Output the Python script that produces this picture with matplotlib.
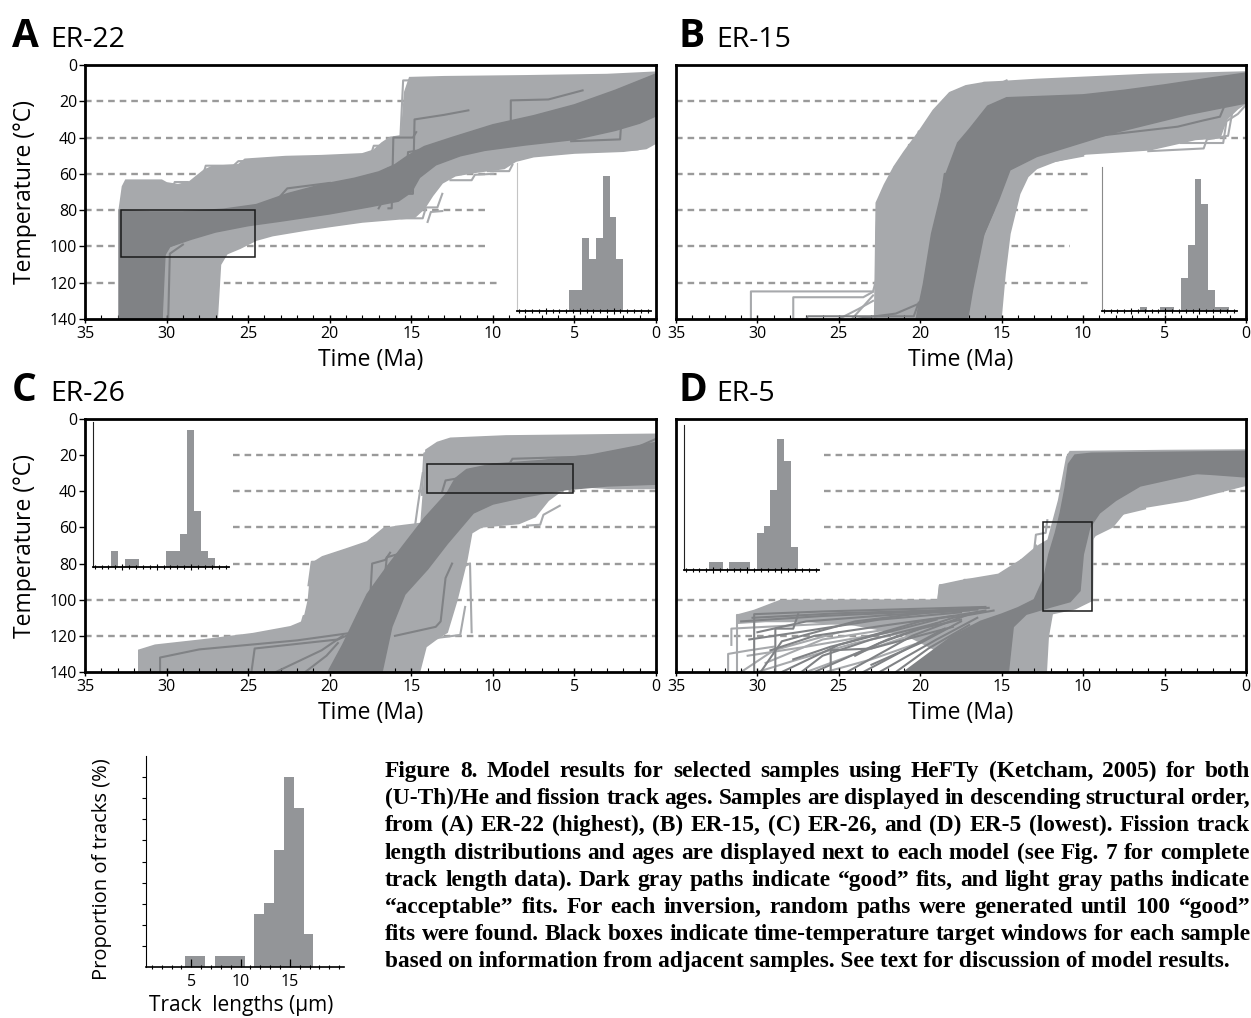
import matplotlib
matplotlib.use('Agg')
import matplotlib.pyplot as plt
from matplotlib.patches import Rectangle
from matplotlib.ticker import MultipleLocator
from matplotlib.font_manager import FontProperties

W, H = 1251, 1018
plt.rcParams['font.family'] = ['Open Sans', 'DejaVu Sans']

LIGHT = '#a7a9ac'
DARK = '#808285'
BAR = '#939598'
GRID = '#9a9a9a'

# ---------------- data ----------------
TEMP_TICKS = [0, 20, 40, 60, 80, 100, 120, 140]
TIME_TICKS = [35, 30, 25, 20, 15, 10, 5, 0]
GRID_TEMPS = [20, 40, 60, 80, 100, 120]

# track-length histograms (bin left edge in um, proportion in % of inset height)
BIN_WIDTH = 1.0
A_hist_left = [8.4, 9.4, 10.4, 11.4, 12.4, 13.4, 14.4, 15.4]
A_hist_pct = [14.5, 14.5, 49, 35, 49, 91.4, 63.6, 35]
B_hist_left = [6.3, 9.3, 10.3, 12.3, 13.3, 14.3, 15.3, 16.3, 17.3, 18.3]
B_hist_pct = [3, 3, 3, 23.1, 45.7, 91.5, 74.1, 14.3, 3, 3]
C_hist_left = [3.4, 5.4, 6.4, 11.4, 12.4, 13.4, 14.4, 15.4, 16.4, 17.4]
C_hist_pct = [11.3, 5.7, 5.7, 11.3, 11.3, 22.5, 94.3, 38.9, 11.3, 6.0]
D_hist_left = [4.4, 5.4, 7.4, 8.4, 9.4, 11.4, 12.4, 13.4, 14.4, 15.4, 16.4]
D_hist_pct = [5.3, 5.3, 5.3, 5.3, 5.3, 25.3, 30.3, 55.4, 90.1, 75.4, 15.6]

# target boxes (t_old, t_young, T_top, T_bottom)
A_box = (32.8, 24.6, 80, 106)
B_box = None
C_box = (14.05, 5.1, 25, 41)
D_box = (12.45, 9.45, 57, 106)

# dashed reference lines: temperature -> (time start, time end)
A_grid = {20: (35, 0), 40: (35, 0), 60: (35, 9.6), 80: (35, 10.3), 100: (35, 10.3), 120: (35, 9.6)}
B_grid = {20: (35, 0), 40: (35, 0), 60: (35, 9.5), 80: (35, 9.5), 100: (35, 10.8), 120: (35, 9.5)}
C_grid = {20: (25.9, 0), 40: (25.9, 0), 60: (25.9, 0), 80: (25.9, 0), 100: (35, 0), 120: (35, 0)}
D_grid = {20: (25.9, 0), 40: (25.9, 0), 60: (25.9, 0), 80: (25.9, 0), 100: (35, 0), 120: (35, 0)}

# ---- Panel A (ER-22): envelopes (Ma, degC) and individual paths
A_acceptable_outline = [
    (32.9, 140), (32.9, 80), (32.7, 67), (32.5, 63.5), (30.3, 63.5), (30.0, 65), (29.3, 66), (28.6, 64.5),
    (27.7, 58), (27.2, 56), (25.6, 55), (25.2, 52), (22.7, 50.5), (20.5, 50), (18.0, 49), (17.3, 47),
    (16.8, 43), (16.3, 40), (15.6, 39), (15.4, 15), (15.1, 7), (13.0, 6.5), (8.0, 6.0), (3.0, 5.3), (0.0, 4.0),
    (0.0, 43), (0.6, 46), (2.0, 47.5), (5.0, 48.5), (7.5, 50.5), (8.6, 53), (9.3, 57), (11.0, 59), (12.3, 61),
    (13.1, 65), (13.7, 72), (14.2, 79), (14.8, 84), (16.0, 85), (18.0, 86.5), (20.0, 89), (21.5, 91),
    (23.5, 94), (24.5, 96.5), (25.5, 101), (26.3, 104), (26.7, 110), (26.9, 140)]
A_good_outline = [
    (32.9, 140), (32.9, 80), (31.0, 81), (29.0, 81), (26.5, 79.5), (24.5, 77), (22.6, 71), (20.5, 66),
    (18.5, 62.5), (17.0, 59), (16.0, 55), (15.2, 50), (14.2, 45), (12.5, 40), (10.0, 33), (7.5, 28),
    (5.0, 22), (2.5, 14), (0.0, 5), (0.0, 28), (1.0, 32), (2.5, 36), (5.0, 41), (8.0, 44), (10.5, 47),
    (12.0, 50), (13.5, 55), (14.5, 62), (15.0, 70), (15.8, 75), (17.5, 78), (20.0, 82), (23.0, 86),
    (25.0, 88.5), (27.0, 92), (28.5, 96), (29.8, 100), (30.2, 106), (30.3, 140)]
A_acceptable_paths = [
    [(32.7, 95), (32.6, 68), (31.2, 68), (30.1, 67), (29.1, 67.5)],
    [(32.4, 80), (32.3, 72), (31.6, 72), (31.5, 69), (30.2, 69)],
    [(32.2, 78), (32.1, 74), (30.9, 74), (30.8, 71), (29.6, 70.5)],
    [(29.6, 67), (29.5, 64.5), (28.7, 64.5)],
    [(27.8, 62), (27.6, 55.5), (25.9, 55.5), (25.6, 53), (22.9, 52.5), (22.7, 51)],
    [(26.8, 60), (26.6, 57.5), (24.6, 57.5), (24.4, 55), (22.2, 54)],
    [(17.5, 50), (17.3, 44.5), (16.6, 44.5), (16.4, 41), (15.8, 40.5)],
    [(15.7, 46), (15.5, 8.5), (13.7, 8.3), (12.0, 7.5)],
    [(15.2, 42), (15.0, 13), (14.3, 13), (13.6, 11.5)],
    [(14.9, 36), (14.7, 19), (14.0, 18.5), (13.2, 16)],
    [(15.6, 84.5), (14.3, 84.5), (14.1, 78.5), (13.4, 78.5), (13.1, 71)],
    [(14.0, 86.5), (13.8, 81), (13.1, 80.5)],
    [(12.6, 63.5), (11.3, 63.5), (11.1, 60.5), (10.0, 60)],
    [(10.3, 58.5), (9.0, 58.5), (8.8, 55)],
    [(2.3, 47), (1.1, 46.5), (0.9, 42), (0.0, 39)],
]
A_good_paths = [
    [(30.3, 140), (30.1, 101), (29.2, 97.5)],
    [(29.9, 140), (29.8, 104), (29.0, 99)],
    [(16.4, 79), (16.2, 79), (16.1, 40), (14.9, 40), (14.7, 37)],
    [(15.1, 71), (14.9, 71), (14.8, 30), (13.0, 27.5), (11.5, 25)],
    [(15.6, 61), (15.3, 61), (15.2, 48), (14.5, 47)],
    [(11.2, 42), (8.9, 40.5), (8.9, 19.5), (6.6, 19), (4.5, 14)],
    [(5.2, 42), (2.2, 41), (2.1, 27), (1.0, 26.5), (0.2, 20)],
    [(17.0, 79), (16.6, 72), (16.4, 57)],
    [(23.0, 72), (22.6, 68), (20.0, 65)],
]

# ---- Panel B (ER-15)
B_acceptable_outline = [
    (22.8, 140), (22.75, 110), (22.7, 76), (22.2, 66), (21.6, 56), (21.0, 48), (20.1, 37), (19.2, 25),
    (18.2, 15.3), (17.2, 11.5), (16.1, 9.8), (12.85, 8), (5.9, 5.2), (0.0, 3.9), (0.0, 21), (0.5, 24),
    (1.2, 30), (1.6, 40), (3.1, 41), (5.9, 46.7), (9.84, 49), (10.76, 51), (11.7, 53), (12.85, 57),
    (13.4, 61.5), (13.9, 71), (14.5, 93), (14.8, 115), (15.05, 140)]
B_good_outline = [
    (20.25, 140), (19.8, 120.6), (19.3, 93), (18.4, 59.7), (17.7, 43), (17.0, 35.6), (15.86, 22.7),
    (14.7, 18.1), (10.0, 16.5), (7.5, 14), (5.0, 11), (2.0, 7), (0.0, 4.5), (0.0, 20.9), (3.6, 27.3),
    (8.2, 37.5), (12.85, 50.4), (14.5, 57.8), (15.2, 74.4), (16.1, 93), (16.8, 124), (17.1, 140)]
B_acceptable_paths = [
    [(30.4, 140), (30.4, 124.8), (22.9, 124.8), (22.7, 118)],
    [(27.8, 140), (27.8, 128), (23.5, 128), (22.9, 125)],
    [(24.2, 140), (23.5, 133), (22.9, 127)],
    [(25.0, 140), (23.8, 134.5), (22.9, 130)],
    [(22.7, 95), (22.6, 75), (21.8, 75), (21.6, 63)],
    [(21.7, 66), (21.6, 56.5), (20.7, 56.5), (20.6, 50)],
    [(20.8, 58), (20.7, 44), (19.9, 44), (19.7, 38)],
    [(20.2, 45), (20.1, 36.6), (18.9, 36.6), (18.6, 32)],
    [(18.6, 36), (18.4, 19), (17.3, 18.5), (17.2, 14)],
    [(18.2, 24), (18.1, 15.3), (16.7, 15), (16.5, 11.5)],
    [(16.4, 14), (16.1, 9.8), (15.0, 9.8), (14.7, 8.5)],
    [(14.3, 63), (13.0, 55), (11.5, 52.5), (10.0, 50)],
    [(6.0, 47.5), (2.6, 46), (2.4, 41), (1.1, 39), (0.8, 24)],
    [(4.0, 43), (1.4, 43), (1.2, 31), (0.5, 27), (0.0, 22)],
]
B_good_paths = [
    [(27.0, 140), (26.9, 138.5), (20.4, 138.5), (20.1, 131)],
    [(24.0, 140), (21.5, 137), (20.2, 132)],
    [(18.7, 72), (18.5, 60), (17.7, 60), (17.5, 46)],
    [(17.6, 48), (17.4, 41), (16.6, 40.5), (16.4, 33)],
    [(15.9, 30), (15.4, 23.5), (14.0, 21.5), (7.6, 18.5), (7.4, 16), (4.0, 15), (0.0, 9)],
    [(10.0, 40), (4.2, 34), (2.6, 30.5), (1.6, 28.5), (1.3, 22), (0.0, 19)],
    [(17.6, 130), (16.9, 115), (16.2, 95), (15.5, 80)],
    [(19.9, 140), (19.6, 118), (19.2, 100)],
]

# ---- Panel C (ER-26)
C_acceptable_outline = [
    (31.7, 140), (31.7, 128), (30.7, 125.2), (27.5, 122), (24.7, 118.8), (22.4, 115), (21.6, 112),
    (21.3, 100), (21.1, 80), (20.45, 76.3), (19.0, 72), (17.7, 68), (16.7, 60.6), (15.5, 59), (14.4, 57.8),
    (14.2, 35), (14.1, 17.2), (13.4, 13), (12.6, 10.7), (9.2, 9.4), (0.0, 8.5), (0.0, 38.4), (2.7, 38.4),
    (5.3, 37), (6.0, 41), (6.6, 45), (7.4, 54), (8.4, 57.8), (10.7, 59.7), (11.3, 63), (11.6, 78),
    (12.2, 100), (12.8, 118), (13.5, 122), (14.1, 126), (14.5, 140)]
C_good_outline = [
    (20.1, 140), (19.2, 125), (18.4, 110), (17.7, 97), (16.5, 82), (15.4, 69), (14.2, 55), (12.8, 41),
    (12.3, 33), (11.6, 28), (10.0, 25), (7.0, 23), (4.0, 20), (0.0, 13), (0.0, 36), (3.0, 37), (5.5, 39),
    (8.0, 43), (10.0, 47), (11.2, 52), (12.8, 69), (14.0, 83), (15.4, 97), (16.2, 115), (16.8, 140)]
C_acceptable_paths = [
    [(30.9, 140), (30.9, 128), (29.4, 126.5)],
    [(29.8, 140), (29.8, 131), (27.9, 129)],
    [(28.9, 140), (28.8, 133), (26.5, 130)],
    [(22.8, 121), (21.9, 118.5), (21.6, 109), (21.0, 108.5)],
    [(21.3, 92), (21.1, 79), (19.7, 79), (19.5, 75)],
    [(20.6, 86), (20.4, 77.5), (18.5, 74), (18.1, 71)],
    [(17.6, 73), (17.4, 66), (16.3, 63.5)],
    [(15.4, 61), (14.8, 61), (14.6, 48), (14.3, 30)],
    [(14.35, 42), (14.2, 19), (13.5, 18)],
    [(7.9, 59), (7.1, 58.5), (6.9, 53), (5.9, 48)],
    [(11.9, 82), (11.4, 80), (11.3, 118)],
    [(13.3, 121), (12.0, 119.5), (11.7, 104)],
]
C_good_paths = [
    [(30.4, 140), (30.4, 132), (28.0, 127.5), (22.0, 122.5), (18.8, 118.5), (17.6, 110)],
    [(24.8, 140), (24.6, 127), (19.5, 122), (18.5, 118)],
    [(23.3, 140), (20.5, 128), (19.2, 120)],
    [(21.5, 140), (20.2, 131), (19.5, 124)],
    [(17.5, 96), (17.4, 80), (16.6, 78), (16.3, 74)],
    [(16.7, 94), (16.5, 76.5), (14.9, 72.5)],
    [(16.0, 120), (13.5, 115), (13.2, 112), (12.9, 88), (12.5, 80)],
    [(13.1, 40), (12.9, 34), (11.6, 32), (11.4, 28), (9.0, 25), (8.8, 22), (5.0, 21), (2.0, 19), (0.0, 11)],
    [(12.0, 50), (10.0, 45.5), (8.3, 43.5), (7.5, 38), (3.0, 36), (0.5, 32)],
]

# ---- Panel D (ER-5)
D_acceptable_outline = [
    (31.25, 113), (31.25, 108.6), (30.2, 106), (28.6, 100.5), (25.0, 100.3), (18.9, 100.3), (18.8, 92),
    (17.5, 89.5), (15.2, 86), (13.8, 78), (12.85, 70.7), (12.15, 67), (11.5, 45), (11.0, 21), (10.8, 18.1),
    (5.0, 17.5), (0.0, 17.2), (0.0, 36.6), (3.6, 44.9), (6.1, 48.6), (7.5, 52), (8.2, 59.7), (9.4, 65),
    (9.44, 100.3), (10.5, 105), (11.9, 107.7), (12.15, 120.6), (12.27, 140), (17.5, 140), (19.0, 128),
    (21.0, 119), (24.0, 114), (27.0, 112), (29.5, 112)]
D_good_outline = [
    (21.0, 140), (19.5, 130), (18.0, 120), (16.3, 112), (15.0, 108), (14.0, 104.5), (13.0, 100),
    (12.4, 88), (12.1, 75), (11.7, 63), (11.4, 52), (11.1, 38), (10.9, 25), (10.5, 20), (9.5, 19),
    (5.0, 18.5), (0.0, 18), (0.0, 32), (1.5, 31), (3.0, 30), (4.5, 33), (6.5, 37), (8.0, 45), (9.0, 52),
    (9.6, 60), (10.0, 75), (10.2, 95), (10.8, 101), (12.0, 104), (13.5, 108), (14.3, 115), (14.6, 140)]
D_acceptable_paths = [
    [(31.8, 140), (31.8, 130), (30.5, 128), (29.0, 126)],
    [(31.25, 140), (31.25, 108.6), (28.6, 108.6), (28.6, 100.5)],
    [(31.0, 140), (29.0, 128), (25.0, 118)],
    [(27.0, 140), (24.0, 130), (20.0, 118)],
    [(29.5, 135), (26.0, 122), (21.0, 115)],
    [(30.6, 131), (27.0, 126), (22.5, 119), (18.5, 113)],
    [(25.8, 140), (23.0, 133), (19.5, 122)],
    [(30.0, 140), (27.5, 133), (24.0, 124), (21.0, 118)],
    [(31.6, 125), (31.6, 116), (29.5, 115), (25.0, 113)],
    [(18.9, 100), (18.8, 92), (17.4, 92), (17.3, 89), (15.2, 89), (15.1, 86), (13.8, 86)],
    [(17.0, 96), (16.8, 90), (15.5, 90)],
    [(14.5, 86), (14.0, 84), (13.8, 78), (13.0, 78), (12.9, 70)],
    [(13.0, 72), (12.9, 64), (12.3, 63), (12.2, 56)],
    [(9.4, 66), (9.0, 60.5), (8.0, 56), (7.6, 52.5), (6.2, 49.5)],
]
D_good_paths = [
    [(30.2, 140), (30.2, 108), (26.0, 106.5), (20.0, 105), (16.0, 104)],
    [(29.8, 140), (28.5, 123), (24.0, 112), (19.0, 106.5), (16.5, 105)],
    [(28.5, 140), (25.0, 125), (20.0, 112), (16.0, 106)],
    [(26.5, 140), (22.0, 122), (18.0, 110), (15.5, 106)],
    [(24.5, 140), (20.5, 120), (17.0, 108)],
    [(22.5, 140), (19.0, 122), (16.5, 110)],
    [(23.0, 136), (20.0, 124), (17.5, 112)],
    [(21.5, 140), (19.5, 127), (17.0, 114)],
    [(30.5, 122), (27.5, 118), (22.5, 111), (17.5, 107)],
    [(31.0, 112), (26.0, 109), (21.0, 107), (16.5, 105.5)],
    [(28.9, 140), (28.9, 116), (27.8, 116), (27.5, 108)],
    [(25.5, 140), (25.5, 128), (23.0, 127), (18.0, 115)],
    [(27.3, 140), (26.0, 131), (23.0, 122), (19.0, 113)],
    [(23.5, 140), (21.0, 128), (18.5, 116)],
    [(30.0, 118), (27.0, 112), (22.0, 108.5), (17.0, 106)],
    [(29.2, 128), (26.5, 120), (22.0, 114), (18.0, 109)],
    [(24.0, 131), (22.5, 124), (20.0, 116), (17.5, 111)],
    [(27.8, 133), (25.5, 126), (22.0, 118), (19.0, 111)],
    [(30.3, 110), (25.0, 107.5), (19.5, 106), (15.8, 104.5)],
    [(10.8, 30), (9.5, 30), (9.3, 26), (7.0, 25), (6.8, 21), (1.0, 21), (0.0, 19)],
    [(8.0, 40), (7.6, 40), (7.5, 33), (5.8, 33), (5.6, 30), (0.8, 30), (0.6, 25)],
]

PANELS = [
    ('A', 'ER-22', (85, 65, 656, 319), A_acceptable_outline, A_good_outline, A_acceptable_paths,
     A_good_paths, A_box, A_grid, True, (517, 163, 651, 311), A_hist_left, A_hist_pct, '#c4c4c4'),
    ('B', 'ER-15', (676, 65, 1246, 319), B_acceptable_outline, B_good_outline, B_acceptable_paths,
     B_good_paths, B_box, B_grid, False, (1102, 167, 1237, 311), B_hist_left, B_hist_pct, '#8a8a8a'),
    ('C', 'ER-26', (85, 419, 656, 672), C_acceptable_outline, C_good_outline, C_acceptable_paths,
     C_good_paths, C_box, C_grid, True, (93, 422, 229, 567), C_hist_left, C_hist_pct, '#222222'),
    ('D', 'ER-5', (676, 419, 1246, 672), D_acceptable_outline, D_good_outline, D_acceptable_paths,
     D_good_paths, D_box, D_grid, False, (684, 425, 819, 570), D_hist_left, D_hist_pct, '#222222'),
]

CAPTION = [
    "Figure 8. Model results for selected samples using HeFTy (Ketcham, 2005) for both",
    "(U-Th)/He and fission track ages. Samples are displayed in descending structural order,",
    "from (A) ER-22 (highest), (B) ER-15, (C) ER-26, and (D) ER-5 (lowest). Fission track",
    "length distributions and ages are displayed next to each model (see Fig. 7 for complete",
    "track length data). Dark gray paths indicate \u201cgood\u201d fits, and light gray paths indicate",
    "\u201cacceptable\u201d fits. For each inversion, random paths were generated until 100 \u201cgood\u201d",
    "fits were found. Black boxes indicate time-temperature target windows for each sample",
    "based on information from adjacent samples. See text for discussion of model results.",
]

# ---------------- drawing ----------------
fig = plt.figure(figsize=(W / 100, H / 100), dpi=100)


def frac_rect(x0, y0, x1, y1):
    return [x0 / W, 1 - y1 / H, (x1 - x0) / W, (y1 - y0) / H]


def draw_hist(rect_px, left, pct, spine_color, xlim=(0.75, 20.5)):
    ax = fig.add_axes(frac_rect(*rect_px), facecolor='none')
    ax.bar(left, pct, width=BIN_WIDTH, align='edge', color=BAR, linewidth=0)
    ax.set_xlim(*xlim)
    ax.set_ylim(0, 100)
    for s in ['top', 'right']:
        ax.spines[s].set_visible(False)
    ax.spines['left'].set_color(spine_color)
    ax.spines['left'].set_linewidth(0.8)
    ax.spines['bottom'].set_linewidth(1.3)
    ax.set_yticks([])
    ax.set_xticks([5, 10, 15])
    ax.set_xticklabels([])
    ax.xaxis.set_minor_locator(MultipleLocator(1))
    ax.tick_params(axis='x', which='major', direction='inout', length=4, width=0.8)
    ax.tick_params(axis='x', which='minor', direction='inout', length=2.5, width=0.8)
    return ax


for (letter, name, box_px, acc_out, good_out, acc_paths, good_paths, tbox, grid, ylab,
     inset_px, h_left, h_pct, sp_col) in PANELS:
    ax = fig.add_axes(frac_rect(*box_px))
    ax.set_xlim(35, 0)
    ax.set_ylim(140, 0)
    for T in GRID_TEMPS:
        t0, t1 = grid[T]
        ax.plot([t0, t1], [T, T], color=GRID, lw=1.7, ls=(0, (2.8, 2.1)),
                solid_capstyle='butt', dash_capstyle='butt', zorder=0.5)
    ax.fill([p[0] for p in acc_out], [p[1] for p in acc_out], facecolor=LIGHT,
            edgecolor=LIGHT, lw=1.2, zorder=1)
    for path in acc_paths:
        ax.plot([p[0] for p in path], [p[1] for p in path], color=LIGHT, lw=1.5, zorder=1.2)
    ax.fill([p[0] for p in good_out], [p[1] for p in good_out], facecolor=DARK,
            edgecolor=DARK, lw=1.2, zorder=2)
    for path in good_paths:
        ax.plot([p[0] for p in path], [p[1] for p in path], color=DARK, lw=1.5, zorder=2.2)
    if tbox is not None:
        t_old, t_young, T_top, T_bot = tbox
        ax.add_patch(Rectangle((t_young, T_top), t_old - t_young, T_bot - T_top, fill=False,
                               edgecolor='#1a1a1a', lw=1.1, zorder=3))
    for s in ax.spines.values():
        s.set_linewidth(2.0)
        s.set_zorder(5)
    ax.set_xticks(TIME_TICKS)
    ax.set_xticklabels([str(t) for t in TIME_TICKS], fontsize=11.5)
    ax.xaxis.set_minor_locator(MultipleLocator(1))
    ax.tick_params(axis='x', which='major', direction='inout', length=6, width=1.0, pad=2)
    ax.tick_params(axis='x', which='minor', direction='in', length=3, width=0.8)
    ax.set_yticks(TEMP_TICKS)
    ax.tick_params(axis='y', which='major', direction='out', length=4, width=1.0, pad=1.5)
    if ylab:
        ax.set_yticklabels([str(t) for t in TEMP_TICKS], fontsize=11.5)
    else:
        ax.set_yticklabels([])
        ax.tick_params(axis='y', left=False)
    x0, y0, x1, y1 = box_px
    lx = 12 if x0 < 300 else 678
    fig.text(lx / W, 1 - (y0 - 18) / H, letter, fontsize=28, fontweight='bold', va='baseline')
    fig.text((lx + 38) / W, 1 - (y0 - 18) / H, name, fontsize=20.5, va='baseline')
    fig.text((x0 + x1) / 2 / W, 1 - (y1 + 41) / H, 'Time (Ma)', fontsize=16.5, ha='center', va='center')
    if ylab:
        fig.text(25 / W, 1 - (y0 + y1) / 2 / H, 'Temperature (\u00b0C)', fontsize=16.5,
                 rotation=90, ha='center', va='center')
    draw_hist(inset_px, h_left, h_pct, sp_col)

# legend histogram (bottom-left)
lg = draw_hist((146, 756, 344, 967), D_hist_left, D_hist_pct, 'black', xlim=(0.4, 20.5))
lg.spines['bottom'].set_linewidth(1.2)
lg.set_yticks(range(10, 100, 10))
lg.set_yticklabels([])
lg.tick_params(axis='y', direction='out', length=3, width=0.8)
lg.tick_params(axis='x', which='major', direction='in', length=6, width=0.9, pad=5)
lg.set_xticklabels(['5', '10', '15'], fontsize=11.5)
fig.text(102 / W, 1 - 869 / H, 'Proportion of tracks (%)', fontsize=14.5, rotation=90,
         ha='center', va='center')
fig.text(241 / W, 1 - 1006 / H, 'Track  lengths (\u00b5m)', fontsize=15, ha='center', va='center')

# caption, fully justified
renderer = fig.canvas.get_renderer()
cap_fp = FontProperties(family='Liberation Serif', weight='bold', size=15)


def text_w(s, fp):
    t = fig.text(0, 0, s, fontproperties=fp)
    w = t.get_window_extent(renderer).width
    t.remove()
    return w


XL, XR = 385, 1250
size = 15 * 848 / text_w(CAPTION[-1], cap_fp)
fp = cap_fp.copy()
fp.set_size(size)
for _ in range(6):
    ok = True
    for line in CAPTION[:-1]:
        words = line.split(' ')
        gap = (XR - XL - sum(text_w(w, fp) for w in words)) / (len(words) - 1)
        if gap < 2.5:
            ok = False
    if ok:
        break
    size *= 0.985
    fp.set_size(size)

base0, step = 777, 27.2
for i, line in enumerate(CAPTION):
    y = 1 - (base0 + i * step) / H
    if i == len(CAPTION) - 1:
        fig.text(XL / W, y, line, fontproperties=fp, va='baseline')
        continue
    words = line.split(' ')
    widths = [text_w(w, fp) for w in words]
    gap = (XR - XL - sum(widths)) / (len(words) - 1)
    x = XL
    for w, wd in zip(words, widths):
        fig.text(x / W, y, w, fontproperties=fp, va='baseline')
        x += wd + gap

fig.savefig('out.png', dpi=100)
